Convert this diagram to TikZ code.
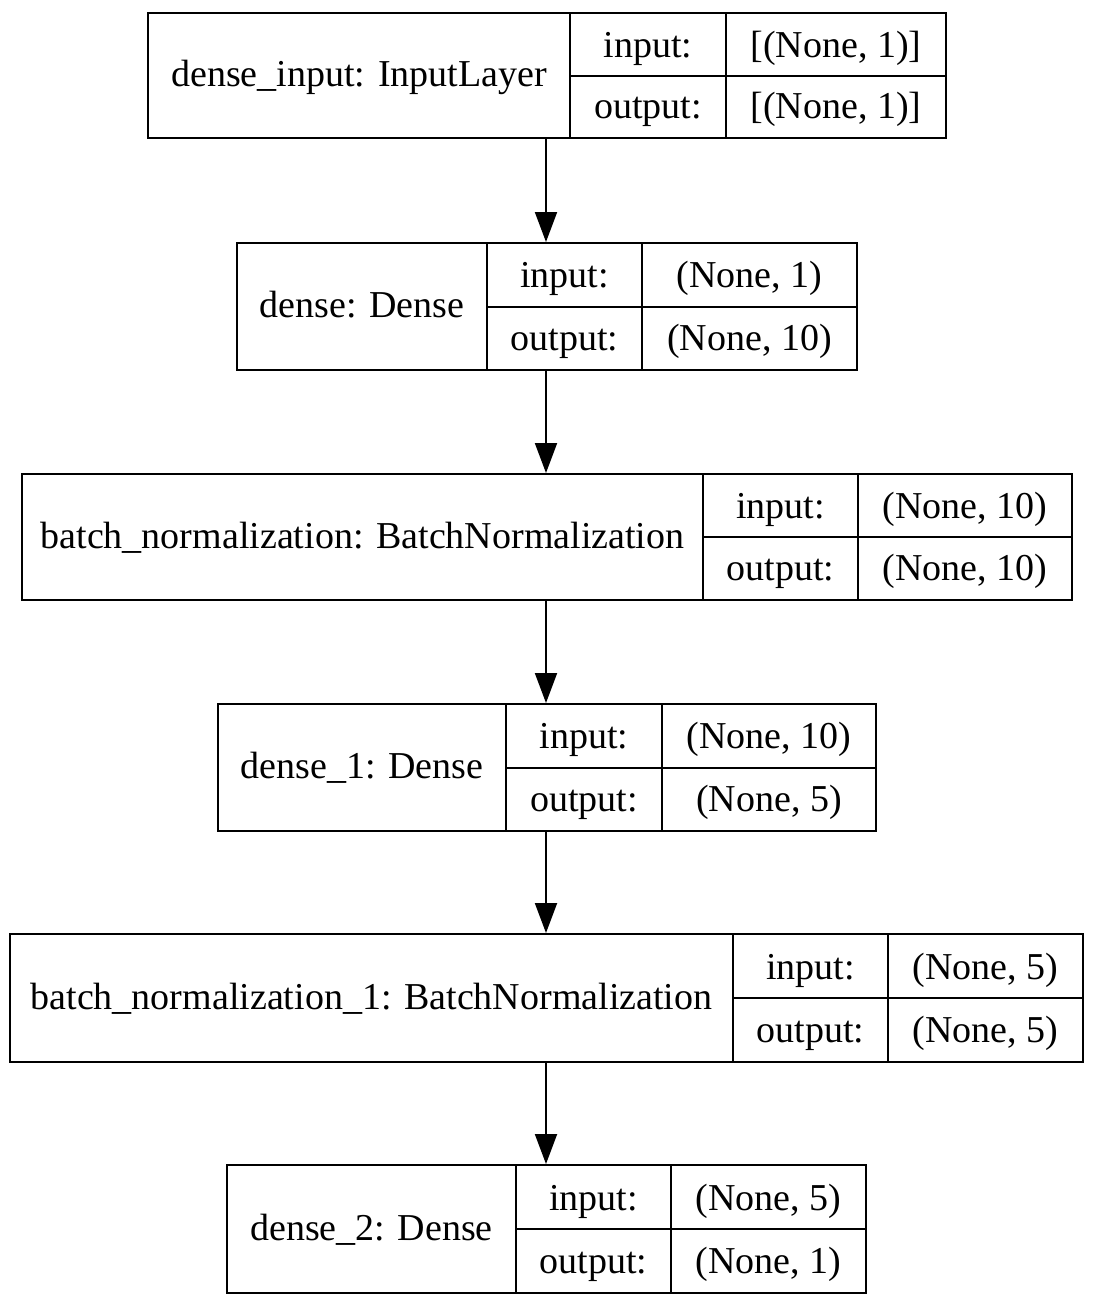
\documentclass[tikz,border=0pt]{standalone}
\usepackage{fontspec}
\setmainfont{Liberation Serif}
\usetikzlibrary{arrows.meta,fit}
\begin{document}
\begin{tikzpicture}[x=0.5pt,y=-0.5pt,
  box/.style={draw, line width=1pt, inner sep=0pt},
  sep/.style={line width=1pt},
  lbl/.style={font=\fontsize{19}{22}\selectfont, inner sep=0pt, anchor=base},
  conn/.style={line width=1pt, -{Triangle[length=15pt,width=11pt]}}]
\useasboundingbox (0,0) rectangle (1094,1306);
\foreach \n/\L/\A/\B/\R/\T/\D/\lab/\vin/\vout in {
  1/148/570/726/946/13/138/{dense\_input: InputLayer}/{[(None, 1)]}/{[(None, 1)]},
  2/237/487/642/857/243/370/{dense: Dense}/{(None, 1)}/{(None, 10)},
  3/22/703/858/1072/474/600/{batch\_normalization: BatchNormalization}/{(None, 10)}/{(None, 10)},
  4/218/506/662/876/704/831/{dense\_1: Dense}/{(None, 10)}/{(None, 5)},
  5/10/733/888/1083/934/1062/{batch\_normalization\_1: BatchNormalization}/{(None, 5)}/{(None, 5)},
  6/227/516/671/866/1165/1293/{dense\_2: Dense}/{(None, 5)}/{(None, 1)}}
{
  \node[box, fit={(\L,\T) (\R,\D)}] (b\n) {};
  \draw[sep] (\A,\T) -- (\A,\D);
  \draw[sep] (\B,\T) -- (\B,\D);
  \draw[sep] (\A,{(\T+\D)/2}) -- (\R,{(\T+\D)/2});
  \node[lbl] (name\n) at ({(\L+\A)/2},{(\T+\D)/2+11}) {\lab};
  \node[lbl] (ik\n) at ({(\A+\B)/2},{(3*\T+\D)/4+13}) {input:};
  \node[lbl] (ok\n) at ({(\A+\B)/2},{(\T+3*\D)/4+12}) {output:};
  \node[lbl] (iv\n) at ({(\B+\R)/2},{(3*\T+\D)/4+13}) {\vin};
  \node[lbl] (ov\n) at ({(\B+\R)/2},{(\T+3*\D)/4+12}) {\vout};
}
\foreach \a/\b in {1/2,2/3,3/4,4/5,5/6}
  \draw[conn] (b\a.south -| 546,0) -- (b\b.north -| 546,0);
\end{tikzpicture}
\end{document}
